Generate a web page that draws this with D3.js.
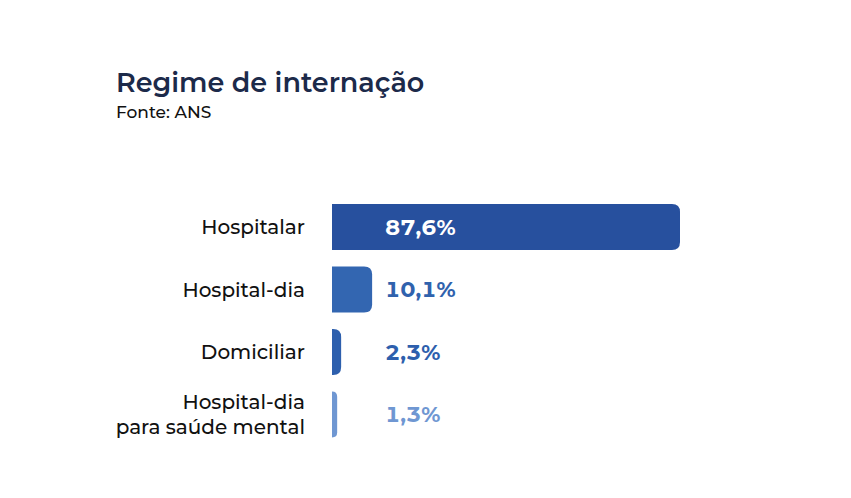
<!DOCTYPE html>
<html><head><meta charset="utf-8">
<script src="https://cdn.jsdelivr.net/npm/d3@7"></script>
<style>body{margin:0;background:#fff}svg{display:block}.val{font-variant-numeric:tabular-nums;font-feature-settings:"tnum" 1}</style>
</head><body>
<svg id="c" width="851" height="498"></svg>
<script>
const categories = [["Hospitalar"], ["Hospital-dia"], ["Domiciliar"], ["Hospital-dia", "para saúde mental"]];
const values = [87.6, 10.1, 2.3, 1.3];
const valueLabels = ["87,6%", "10,1%", "2,3%", "1,3%"];
const barColors = ["#27509e", "#3366b1", "#2d5fad", "#6f97d2"];
const labelColors = ["#ffffff", "#3062ad", "#2d5fad", "#6f97d2"];

const svg = d3.select("#c");
const font = "Montserrat, 'Open Sans', Lato, sans-serif";
svg.append("text").attr("x", 116).attr("y", 92).attr("font-family", font)
  .attr("font-size", 27).attr("font-weight", 600).attr("fill", "#1c2a4a").text("Regime de internação");
svg.append("text").attr("x", 116).attr("y", 118).attr("font-family", font)
  .attr("font-size", 17).attr("font-weight", 500).attr("fill", "#111").text("Fonte: ANS");

const x0 = 332;
const x = d3.scaleLinear().domain([0, 87.6]).range([0, 348]);
const y = d3.scaleBand().domain(d3.range(values.length)).range([204, 437.5]).paddingInner(0.264).paddingOuter(0);

function barPath(w, h, r) {
  r = Math.min(r, w, h / 2);
  return `M0,0 H${w - r} Q${w},0 ${w},${r} V${h - r} Q${w},${h} ${w - r},${h} H0 Z`;
}

const g = svg.selectAll("g.row").data(values).join("g").attr("class", "row")
  .attr("transform", (d, i) => `translate(0,${y(i)})`);
g.append("path").attr("transform", `translate(${x0},0)`)
  .attr("d", d => barPath(x(d), y.bandwidth(), 8))
  .attr("fill", (d, i) => barColors[i]);
g.append("text").attr("class", "val").attr("x", 385).attr("y", y.bandwidth() / 2).attr("dy", "0.36em")
  .attr("font-family", font).attr("font-size", 21.8).attr("font-weight", 700)
  .attr("fill", (d, i) => labelColors[i]).text((d, i) => valueLabels[i]);
g.each(function (d, i) {
  const lines = categories[i];
  const t = d3.select(this).append("text").attr("text-anchor", "end")
    .attr("font-family", font).attr("font-size", 20).attr("font-weight", 500).attr("fill", "#111");
  const lh = 25;
  const start = y.bandwidth() / 2 - (lines.length - 1) * lh / 2;
  lines.forEach((l, j) => t.append("tspan").attr("x", 305).attr("y", start + j * lh).attr("dy", "0.36em").text(l));
});
</script>
</body></html>
